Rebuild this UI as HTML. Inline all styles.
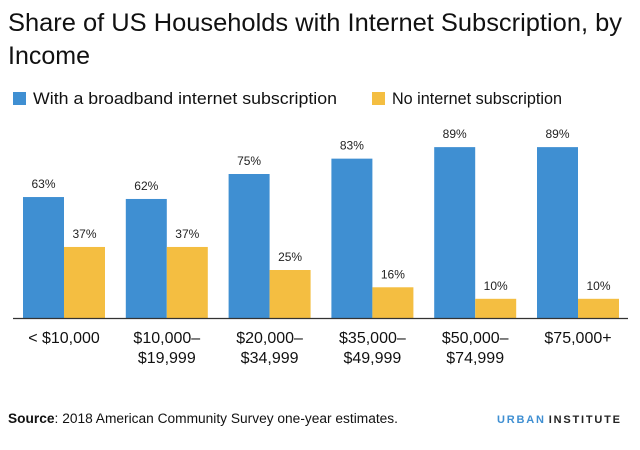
<!DOCTYPE html>
<html><head><meta charset="utf-8"><style>
body{margin:0;background:#fff;font-family:"Liberation Sans",sans-serif;}
#wrap{position:relative;width:640px;height:450px;overflow:hidden}
</style></head><body>
<div id="wrap">
<svg id="svg" width="640" height="450" xmlns="http://www.w3.org/2000/svg">
<text x="8" y="31" font-size="25" fill="#111" textLength="614" lengthAdjust="spacingAndGlyphs">Share of US Households with Internet Subscription, by</text>
<text x="8" y="64" font-size="25" fill="#111">Income</text>
<rect x="13" y="92" width="13" height="13" fill="#3f8fd2"/>
<text x="33" y="104" font-size="16.5" fill="#111" textLength="304" lengthAdjust="spacingAndGlyphs">With a broadband internet subscription</text>
<rect x="372" y="92" width="13" height="13" fill="#f4be41"/>
<text x="392" y="104" font-size="16.5" fill="#111" textLength="170" lengthAdjust="spacingAndGlyphs">No internet subscription</text>
<g id="bars"></g>
<line x1="13" y1="318.5" x2="628" y2="318.5" stroke="#333" stroke-width="1.2"/>
<text x="8" y="423" font-size="13.5" fill="#111" textLength="390" lengthAdjust="spacingAndGlyphs"><tspan font-weight="bold">Source</tspan>: 2018 American Community Survey one-year estimates.</text>
<text x="497" y="423" font-size="11" font-weight="bold" letter-spacing="1.8"><tspan fill="#3f8fd2">URBAN</tspan><tspan fill="#222" dx="3">INSTITUTE</tspan></text>
</svg>
</div>
<script>
const categories = [["< $10,000"],["$10,000–","$19,999"],["$20,000–","$34,999"],["$35,000–","$49,999"],["$50,000–","$74,999"],["$75,000+"]];
const broadband = [63,62,75,83,89,89];
const noInternet = [37,37,25,16,10,10];
const NS="http://www.w3.org/2000/svg";
const g=document.getElementById('bars');
const baseY=318, pxPer=1.92, x0=64, step=102.8, bw=41;
const yScale=v=>baseY-v*pxPer;
const xCenter=i=>x0+i*step;
function mk(tag,attrs){const e=document.createElementNS(NS,tag);for(const k in attrs)e.setAttribute(k,attrs[k]);g.appendChild(e);return e;}
categories.forEach((c,i)=>{
  const cx=xCenter(i);
  [[broadband[i],cx-bw,'#3f8fd2','broadband'],[noInternet[i],cx,'#f4be41','none']].forEach(([v,x,col,s])=>{
    const r=mk('rect',{x:x,y:yScale(v),width:bw,height:v*pxPer,fill:col});
    
    
    const t=mk('text',{x:x+bw/2,y:yScale(v)-9,'font-size':12,'text-anchor':'middle',fill:'#222'});
    t.textContent=v+'%';
    
    
  });
  c.forEach((line,j)=>{
    const t=mk('text',{x:cx,y:343+j*20,'font-size':16,'text-anchor':'middle',fill:'#111'});
    t.textContent=line;
    
    
  });
});
</script>
</body></html>
